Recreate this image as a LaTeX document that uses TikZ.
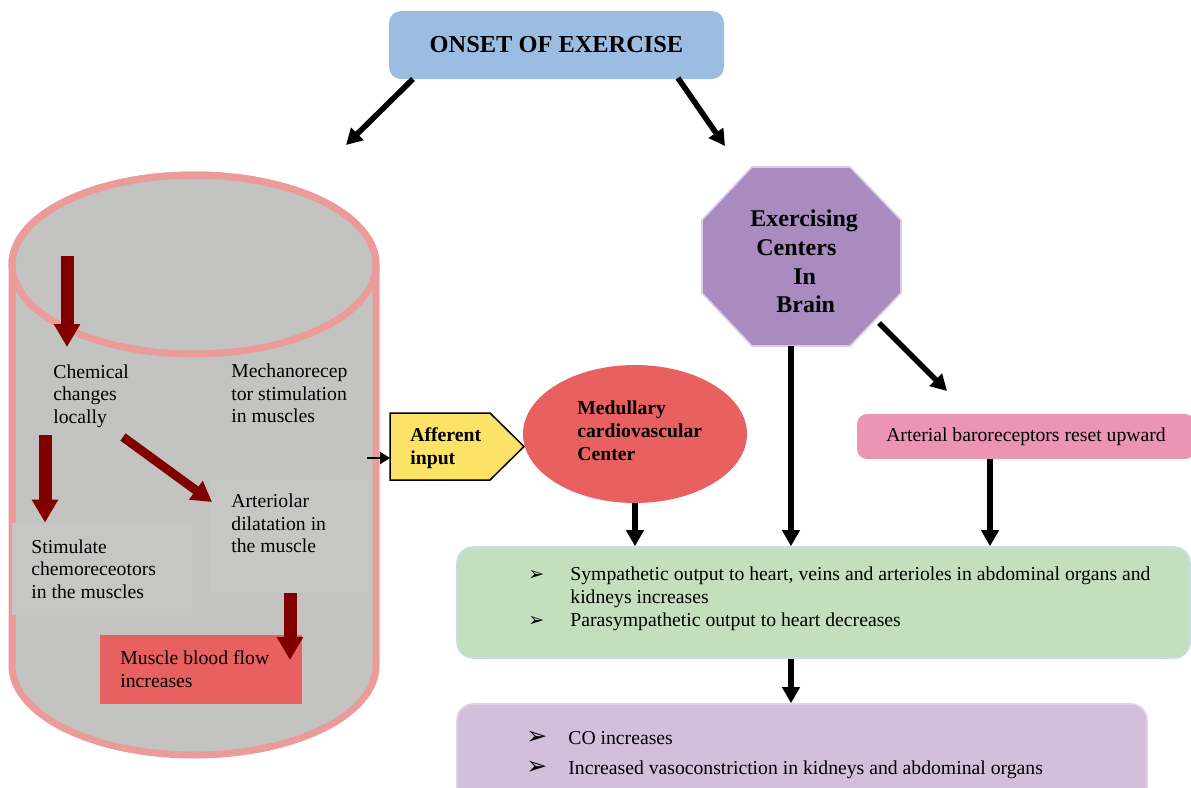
\documentclass[tikz,border=0pt]{standalone}
\usepackage{fontspec}
\setmainfont{Liberation Serif}
\newfontfamily\symfont{DejaVu Sans}
\usetikzlibrary{arrows.meta,shapes.geometric}
\definecolor{onsetblue}{RGB}{155,189,226}
\definecolor{cylgray}{RGB}{195,195,193}
\definecolor{boxgray}{RGB}{198,198,196}
\definecolor{cylpink}{RGB}{236,155,155}
\definecolor{darkred}{RGB}{128,0,0}
\definecolor{medred}{RGB}{232,96,96}
\definecolor{affyellow}{RGB}{252,226,102}
\definecolor{octpurple}{RGB}{169,139,192}
\definecolor{octedge}{RGB}{220,204,234}
\definecolor{baropink}{RGB}{236,148,180}
\definecolor{greenfill}{RGB}{195,223,190}
\definecolor{greenedge}{RGB}{197,221,240}
\definecolor{purplefill}{RGB}{211,190,220}
\definecolor{purpleedge}{RGB}{225,210,232}
\newcommand{\gbul}{{\symfont\fontsize{9.5}{9.5}\selectfont ➢}}
\newcommand{\pbul}{{\symfont\fontsize{12.5}{12.5}\selectfont ➢}}
\begin{document}
\begin{tikzpicture}[x=0.5pt,y=-0.5pt,
  txt/.style={inner sep=0pt,anchor=west,align=left,font=\fontsize{9.85}{11.25}\selectfont},
  btxt/.style={inner sep=0pt,anchor=west,align=left,font=\fontsize{9.85}{11.5}\selectfont\bfseries},
  blk/.style={draw=black,line width=2.8pt,-{Triangle[length=8pt,width=8.5pt]}},
  smallblk/.style={draw=black,line width=1.3pt,-{Triangle[length=5pt,width=6pt]}},
  dred/.style={draw=darkred,line width=6.5pt,-{Triangle[length=11.5pt,width=12.5pt]}},
  dredthin/.style={draw=darkred,line width=4.5pt,-{Triangle[length=10pt,width=11pt]}},
  roundbox/.style={rectangle,inner sep=0pt,rounded corners=#1},
  graybox/.style={rectangle,inner sep=0pt,fill=boxgray}
]
\useasboundingbox (0,0) rectangle (1191,788);
\path[clip] (0,0) rectangle (1191,788);

% ---- onset
\node[roundbox=6pt,fill=onsetblue,minimum width=167.5pt,minimum height=34pt,
      font=\fontsize{12.2}{14}\selectfont\bfseries] (onset) at (556.5,45) {ONSET OF EXERCISE};
\coordinate (onsetL) at (413,79);
\coordinate (onsetR) at (678,78);
\coordinate (cylTop) at (346,145);
\coordinate (brainTop) at (725,146);
\draw[blk] (onsetL) -- (cylTop);
\draw[blk] (onsetR) -- (brainTop);

% ---- cylinder
\path[fill=cylgray,draw=cylpink,line width=3.5pt]
  (12,264.5) -- (12,665.5)
  arc[start angle=180,end angle=360,x radius=91pt,y radius=44.75pt]
  -- (376,264.5)
  arc[start angle=0,end angle=180,x radius=91pt,y radius=44.75pt] -- cycle;
\draw[cylpink,line width=3.5pt] (194,264.5) ellipse[x radius=91pt,y radius=44.75pt];

\node[graybox,minimum width=90pt,minimum height=46pt] (stimbox) at (102,569) {};
\node[graybox,minimum width=79.5pt,minimum height=57pt] (artbox) at (290.5,536) {};
\node[rectangle,inner sep=0pt,fill=medred,minimum width=101pt,minimum height=34.5pt] (flowbox) at (201,669.5) {};

\node[txt] (chem) at (53,396) {Chemical\\changes\\locally};
\node[txt] (mech) at (231,393.7) {Mechanorecep\\tor stimulation\\in muscles};
\node[txt] (stim) at (31,569) {Stimulate\\chemoreceotors\\in the muscles};
\node[txt] (art) at (231,523.7) {Arteriolar\\dilatation in\\the muscle};
\node[txt] (flow) at (120,669) {Muscle blood flow\\increases};

\coordinate (r1a) at (67,256);
\coordinate (r1b) at (67,347);
\coordinate (r2a) at (45,435);
\coordinate (r3a) at (123,437);
\coordinate (r3b) at (212,502);
\coordinate (r4a) at (290,593);
\coordinate (r4b) at (290,660);
\draw[dred] (r1a) -- (r1b);
\draw[dred] (r2a) -- (r2a |- stimbox.north);
\draw[dredthin] (r3a) -- (r3b);
\draw[dred] (r4a) -- (r4b);

% ---- afferent input
\path[draw=black,fill=affyellow,line width=0.75pt]
  (390,413) -- (490,413) -- (524,446.5) -- (490,480) -- (390,480) -- cycle;
\node[btxt] (aff) at (410,448) {Afferent\\input};
\coordinate (cylR) at (367,458);
\coordinate (affL) at (390,458);
\draw[smallblk] (cylR) -- (affL);

% ---- medullary
\node[ellipse,fill=medred,inner sep=0pt,minimum width=112pt,minimum height=69pt] (med) at (635,434) {};
\node[btxt] (medtxt) at (577,431) {Medullary\\cardiovascular\\Center};

% ---- octagon
\path[fill=octpurple,draw=octedge,line width=0.8pt]
  (752,167) -- (850,167) -- (901,220) -- (901,293) -- (850,346) -- (752,346) -- (702,293) -- (702,220) -- cycle;
\node[inner sep=0pt,anchor=west,align=left,font=\fontsize{12}{14.35}\selectfont\bfseries] (brain) at (750,261.5)
  {Exercising\\\hspace*{3pt}Centers\\\hspace*{21.5pt}In\\\hspace*{13pt}Brain};
\coordinate (brainB) at (791,346);
\coordinate (brainD) at (879,323);
\coordinate (baroTip) at (947,391);

% ---- baroreceptors
\node[roundbox=5pt,fill=baropink,minimum width=169pt,minimum height=22.5pt,
      font=\fontsize{9.85}{11.25}\selectfont] (baro) at (1026,436.5) {Arterial baroreceptors reset upward};

% ---- green box
\node[roundbox=8pt,fill=greenfill,draw=greenedge,line width=0.8pt,minimum width=366.5pt,minimum height=55.5pt] (green) at (823.5,602.5) {};
\node[txt,font=\fontsize{9.85}{11.5}\selectfont] (gtext) at (528,599)
  {\makebox[21pt][l]{\gbul}Sympathetic output to heart, veins and arterioles in abdominal organs and\\
   \hspace*{21pt}kidneys increases\\
   \makebox[21pt][l]{\gbul}Parasympathetic output to heart decreases};

% ---- purple box
\node[roundbox=8pt,fill=purplefill,draw=purpleedge,line width=0.8pt,minimum width=345pt,minimum height=50pt] (purple) at (802,754) {};
\node[txt,font=\fontsize{9.85}{15}\selectfont] (ptext) at (526,755)
  {\makebox[21pt][l]{\pbul}CO increases\\
   \makebox[21pt][l]{\pbul}Increased vasoconstriction in kidneys and abdominal organs};

% ---- connectors
\draw[blk] (med.south) -- (med.south |- green.north);
\draw[blk] (brainB) -- (brainB |- green.north);
\draw[blk] (brainD) -- (baroTip);
\draw[blk] ([xshift=-18pt]baro.south) -- ([xshift=-18pt]baro.south |- green.north);
\draw[blk] (brainB |- green.south) -- (brainB |- purple.north);
\end{tikzpicture}
\end{document}
